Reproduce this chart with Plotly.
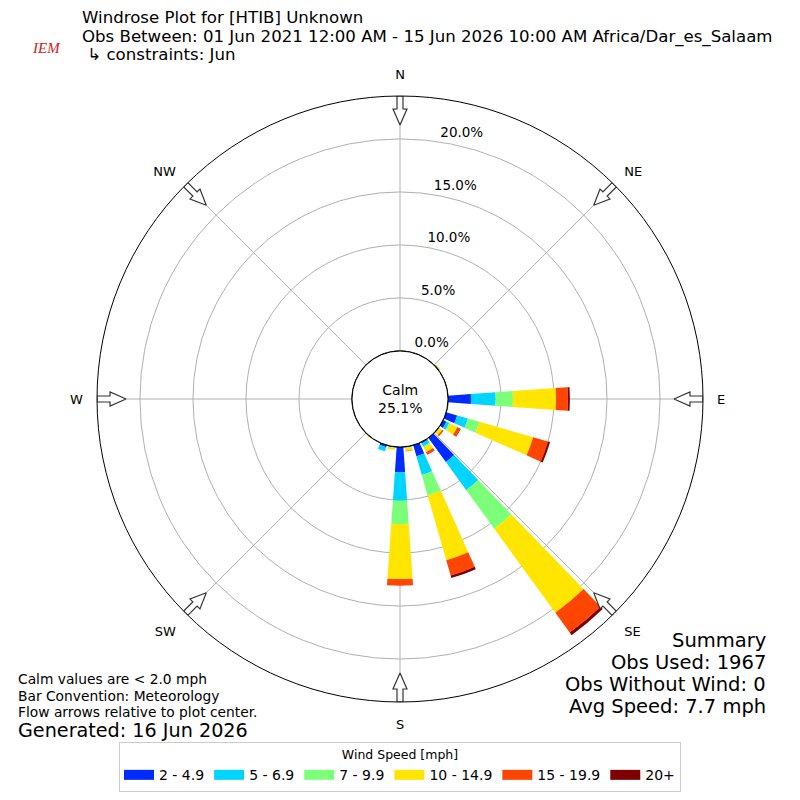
import math

import plotly.graph_objects as go

# wind direction bins (deg, meteorological "from") and percent of obs per speed bin
directions = [0, 50, 90, 100, 110, 120, 130, 140, 150, 160, 170, 180, 190, 200, 220]
speed_bins = ["2 - 4.9", "5 - 6.9", "7 - 9.9", "10 - 14.9", "15 - 19.9", "20+"]
pct_2_5 = [0.0, 0.10, 2.17, 0.0, 1.08, 0.35, 0.05, 2.83, 0.15, 1.09, 0.05, 2.39, 0.05, 0.20, 0.0]
pct_5_7 = [0.0, 0.0, 2.33, 0.0, 1.06, 0.30, 0.05, 3.27, 0.30, 1.83, 0.05, 2.68, 0.05, 0.40, 0.0]
pct_7_10 = [0.10, 0.0, 1.63, 0.10, 1.13, 0.15, 0.0, 4.50, 0.10, 2.01, 0.05, 2.20, 0.0, 0.0, 0.0]
pct_10_15 = [0.0, 0.10, 4.06, 0.0, 5.27, 0.70, 0.30, 9.80, 0.50, 6.37, 0.25, 5.19, 0.20, 0.0, 0.10]
pct_15_20 = [0.0, 0.0, 1.13, 0.0, 1.46, 0.30, 0.15, 2.30, 0.25, 1.50, 0.05, 0.63, 0.0, 0.0, 0.0]
pct_20_up = [0.0, 0.0, 0.18, 0.0, 0.20, 0.05, 0.0, 0.30, 0.03, 0.24, 0.0, 0.0, 0.0, 0.0, 0.0]
calm_pct = 25.1

ring_vals = [0, 5, 10, 15, 20]
ring_text = ["0.0%", "5.0%", "10.0%", "15.0%", "20.0%"]
compass_vals = [0, 45, 90, 135, 180, 225, 270, 315]
compass_text = ["N", "NE", "E", "SE", "S", "SW", "W", "NW"]

colors = ["#002bff", "#00d4ff", "#7cff79", "#ffe500", "#ff4600", "#7f0000"]
series = [pct_2_5, pct_5_7, pct_7_10, pct_10_15, pct_15_20, pct_20_up]

RMAX = 24.05
R_PX, HOLE_PX = 303.0, 48.0
LABEL_LIFT = 1.1  # ring labels sit a little outside their ring, like matplotlib
FONT = "DejaVu Sans"
DOMAIN = dict(x=[0.12125, 0.87875], y=[0.1225, 0.88])

fig = go.Figure()

for name, vals, color in zip(speed_bins, series, colors):
    fig.add_trace(go.Barpolar(
        r=vals, theta=directions, width=8, name=name, legendgroup=name,
        marker=dict(color=color, line=dict(width=0)), showlegend=False,
    ))
    # legend stand-in so the key shows wide flat swatches
    fig.add_trace(go.Scatterpolar(
        r=[None], theta=[None], mode="lines", name=name, legendgroup=name,
        line=dict(color=color, width=10),
    ))


def px_to_r(px):
    return RMAX * (px - HOLE_PX) / (R_PX - HOLE_PX)


# hollow flow arrows at the compass points
shape = [(0, -3), (13, -3), (13, -7), (29, 0), (13, 7), (13, 3), (0, 3), (0, -3)]
for d in compass_vals:
    rr, tt = [], []
    for s, w in shape:
        rp = R_PX - s
        rr.append(px_to_r(rp))
        tt.append(d + math.degrees(w / rp))
    fig.add_trace(go.Scatterpolar(
        r=rr, theta=tt, mode="lines", fill="toself", fillcolor="white",
        line=dict(color="#333333", width=1.2), showlegend=False, hoverinfo="skip",
    ))

# calm circle outline (edge of the hole)
fig.add_trace(go.Scatterpolar(
    r=[0] * 73, theta=list(range(0, 361, 5)), mode="lines",
    line=dict(color="black", width=1.2), showlegend=False, hoverinfo="skip",
))

# empty overlay subplot that only carries the ring labels
fig.add_trace(go.Scatterpolar(r=[None], theta=[None], subplot="polar2", showlegend=False))

fig.update_layout(
    width=800, height=800,
    margin=dict(l=0, r=0, t=0, b=0),
    paper_bgcolor="white",
    font=dict(family=FONT, size=13, color="black"),
    polar=dict(
        domain=DOMAIN,
        hole=HOLE_PX / R_PX,
        bgcolor="white",
        barmode="stack",
        angularaxis=dict(
            rotation=90, direction="clockwise",
            tickmode="array", tickvals=compass_vals, ticktext=compass_text,
            ticks="outside", ticklen=11, tickcolor="rgba(0,0,0,0)",
            showline=True, linecolor="black", linewidth=1,
            showgrid=True, gridcolor="#b0b0b0", gridwidth=1,
            layer="above traces",
            tickfont=dict(family=FONT, size=13),
        ),
        radialaxis=dict(
            range=[0, RMAX], angle=80,
            tickmode="array", tickvals=ring_vals, showticklabels=False,
            showline=False, ticks="",
            showgrid=True, gridcolor="#b0b0b0", gridwidth=1,
            layer="above traces",
        ),
    ),
    polar2=dict(
        domain=DOMAIN,
        hole=HOLE_PX / R_PX,
        bgcolor="rgba(0,0,0,0)",
        angularaxis=dict(visible=False, rotation=90, direction="clockwise"),
        radialaxis=dict(
            range=[-LABEL_LIFT, RMAX - LABEL_LIFT], angle=83, tickangle=83,
            tickmode="array", tickvals=ring_vals, ticktext=ring_text,
            showline=False, ticks="", side="clockwise", showgrid=False,
            tickfont=dict(family=FONT, size=13.5),
        ),
    ),
    legend=dict(
        orientation="h", x=0.5, xanchor="center", y=0.0725, yanchor="top",
        bordercolor="#cccccc", borderwidth=1, bgcolor="white",
        title=dict(text="Wind Speed [mph]", side="top center", font=dict(size=12.5)),
        font=dict(size=14),
    ),
)

annotations = [
    dict(text="Windrose Plot for [HTIB] Unknown", x=80, y=18, size=16.6, xanchor="left"),
    dict(text="Obs Between: 01 Jun 2021 12:00 AM - 15 Jun 2026 10:00 AM Africa/Dar_es_Salaam",
         x=80, y=37, size=16.6, xanchor="left"),
    dict(text=" \u21b3 constraints: Jun", x=80, y=55, size=16.6, xanchor="left"),
    dict(text="Calm values are < 2.0 mph", x=16, y=679, size=13.8, xanchor="left"),
    dict(text="Bar Convention: Meteorology", x=16, y=696, size=13.8, xanchor="left"),
    dict(text="Flow arrows relative to plot center.", x=16, y=712, size=13.8, xanchor="left"),
    dict(text="Generated: 16 Jun 2026", x=16, y=730, size=19.2, xanchor="left"),
    dict(text="Summary", x=768, y=640, size=19.5, xanchor="right"),
    dict(text="Obs Used: 1967", x=768, y=662, size=19.5, xanchor="right"),
    dict(text="Obs Without Wind: 0", x=768, y=684, size=19.5, xanchor="right"),
    dict(text="Avg Speed: 7.7 mph", x=768, y=706, size=19.5, xanchor="right"),
    dict(text=f"Calm<br>{calm_pct:.1f}%", x=400, y=399, size=14, xanchor="center"),
]
for a in annotations:
    fig.add_annotation(
        text=a["text"], x=a["x"] / 800, y=1 - a["y"] / 800, xref="paper", yref="paper",
        xanchor=a["xanchor"], yanchor="middle", showarrow=False,
        font=dict(family=FONT, size=a["size"], color="black"),
    )

# stand-in for the IEM logo
fig.add_annotation(
    text="<i>IEM</i>", x=30 / 800, y=1 - 38 / 800, xref="paper", yref="paper",
    showarrow=False, font=dict(family="Liberation Serif", size=15, color="#d42020"),
)

fig.write_html(
    "out.html",
    config={"displayModeBar": False},
    post_script="document.body.style.margin='0';",
)
